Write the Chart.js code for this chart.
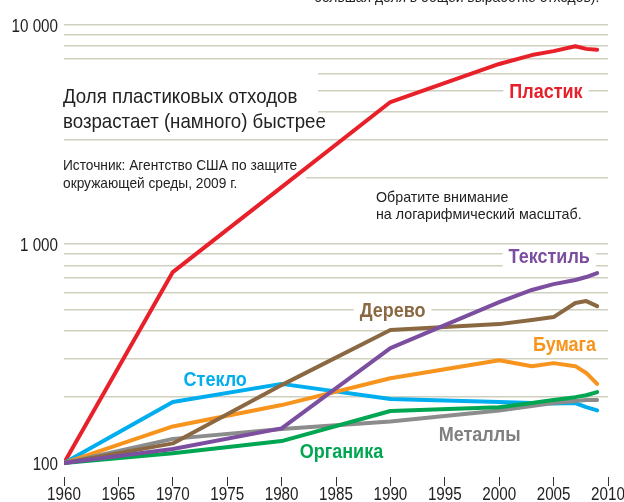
<!DOCTYPE html>
<html>
<head>
<meta charset="utf-8">
<script src="https://cdn.jsdelivr.net/npm/chart.js@4"></script>
<style>
  html, body { margin: 0; padding: 0; background: #fff; }
  #wrap { width: 624px; height: 502px; position: relative; }
</style>
</head>
<body>
<div id="wrap"><canvas id="chart"></canvas></div>
<script>
const FONT = "'Liberation Sans', Arial, sans-serif";

// data (index, 1960 = 100)
const years    = [1960, 1970, 1980, 1990, 2000, 2003, 2005, 2007, 2008, 2009];
const plastic  = [100, 745, 1820, 4450, 6640, 7290, 7600, 8000, 7780, 7700];
const textiles = [100, 116, 144, 335, 543, 617, 656, 685, 707, 737];
const wood     = [100, 123, 227, 405, 431, 450, 464, 538, 549, 521];
const paper    = [100, 147, 184, 244, 295, 277, 286, 277, 258, 230];
const glass    = [100, 190, 230, 196, 190, 188, 187, 188, 180, 174];
const organics = [100, 111, 126, 173, 180, 188, 194, 200, 204, 211];
const metals   = [100, 129, 143, 155, 174, 182, 188, 192, 194, 194];

const gridValues = [100, 200, 300, 400, 500, 600, 700, 800, 900,
                    1000, 2000, 3000, 4000, 5000, 6000, 7000, 8000, 9000, 10000];
const yLabels = { 100: '100', 1000: '1 000', 10000: '10 000' };
const xTicks  = [1960, 1965, 1970, 1975, 1980, 1985, 1990, 1995, 2000, 2005, 2010];

// series labels, placed in data units [year, value]
const seriesLabels = [
  { text: 'Пластик',  at: [2004.3, 5000], color: '#e8202a' },
  { text: 'Текстиль', at: [2004.6, 880],  color: '#7b4ea0' },
  { text: 'Дерево',   at: [1990.2, 500],  color: '#8a6842' },
  { text: 'Бумага',   at: [2006.0, 350],  color: '#f7941d' },
  { text: 'Стекло',   at: [1973.9, 242],  color: '#00aeef' },
  { text: 'Металлы',  at: [1998.2, 136],  color: '#808080' },
  { text: 'Органика', at: [1985.5, 113],  color: '#00a651' },
];

const pts = vals => vals.map((v, i) => ({ x: years[i], y: v }));
const line = (data, color) => ({
  data: pts(data), borderColor: color, borderWidth: 4, pointRadius: 0,
  tension: 0, borderJoinStyle: 'round', borderCapStyle: 'round', fill: false,
});

// condensed look: Liberation Sans squeezed horizontally
function txt(ctx, text, x, y, o) {
  ctx.save();
  ctx.font = `${o.weight || 'normal'} ${o.size}px ${FONT}`;
  const sx = o.sx || 0.82;
  const w = ctx.measureText(text).width * sx;
  let left = x;
  if (o.align === 'center') left = x - w / 2;
  if (o.align === 'right') left = x - w;
  if (o.mask) {
    ctx.fillStyle = '#fff';
    ctx.fillRect(left - 6, y - o.size * 0.9, w + 12, o.size * 1.15);
  }
  ctx.fillStyle = o.color || '#222';
  ctx.textAlign = 'left';
  ctx.textBaseline = 'alphabetic';
  ctx.translate(left, y);
  ctx.scale(sx, 1);
  ctx.fillText(text, 0, 0);
  ctx.restore();
  return w;
}

const notes = {
  id: 'notes',
  beforeDatasetsDraw(chart) {
    const { ctx, scales: { x, y } } = chart;
    ctx.save();
    ctx.fillStyle = '#fff';
    ctx.fillRect(56, 64, 262, 68);
    ctx.fillRect(56, 150, 250, 42);
    ctx.restore();
    txt(ctx, 'Доля пластиковых отходов', 63, 103, { size: 21, sx: 0.89 });
    txt(ctx, 'возрастает (намного) быстрее', 63, 128, { size: 21, sx: 0.89 });
    txt(ctx, 'Источник: Агентство США по защите', 63, 170, { size: 15, sx: 0.915 });
    txt(ctx, 'окружающей среды, 2009 г.', 63, 188, { size: 15, sx: 0.915 });
    txt(ctx, 'Обратите внимание', 376, 202, { size: 15, sx: 0.95 });
    txt(ctx, 'на логарифмический масштаб.', 376, 219, { size: 15, sx: 0.95 });

    seriesLabels.forEach(l => {
      const px = x.getPixelForValue(l.at[0]);
      const py = y.getPixelForValue(l.at[1]);
      txt(ctx, l.text, px, py + 7, { size: 20, weight: 'bold', sx: 0.9, color: l.color, align: 'center', mask: true });
    });
  },
  afterDraw(chart) {
    const { ctx, scales: { x, y } } = chart;
    xTicks.forEach(v => txt(ctx, String(v), x.getPixelForValue(v), 500, { size: 19, sx: 0.8, align: 'center' }));
    Object.keys(yLabels).forEach(v => txt(ctx, yLabels[v], 58, y.getPixelForValue(+v) + 7, { size: 19, sx: 0.8, align: 'right' }));
    txt(ctx, 'большая доля в общей выработке отходов).', 314, 2, { size: 15, sx: 0.925 });
  },
};

new Chart(document.getElementById('chart'), {
  type: 'line',
  data: {
    datasets: [
      line(textiles, '#7b4ea0'),
      line(wood,     '#8a6842'),
      line(organics, '#00a651'),
      line(metals,   '#8c8c8c'),
      line(paper,    '#f7941d'),
      line(glass,    '#00aeef'),
      line(plastic,  '#e8202a'),
    ],
  },
  options: {
    responsive: true,
    maintainAspectRatio: false,
    devicePixelRatio: 1,
    animation: false,
    layout: { padding: { top: 25, right: 16, left: 0, bottom: 0 } },
    plugins: { legend: { display: false }, tooltip: { enabled: false } },
    scales: {
      x: {
        type: 'linear', min: 1960, max: 2010,
        afterBuildTicks: s => { s.ticks = xTicks.map(v => ({ value: v })); },
        afterFit: s => { s.height = 25; },
        ticks: { display: true, color: 'rgba(0,0,0,0)', padding: 0, callback: () => '' },
        grid: { drawOnChartArea: false, drawTicks: true, tickLength: 9, tickColor: '#333', tickWidth: 1 },
        border: { display: false },
      },
      y: {
        type: 'logarithmic', min: 86.4, max: 10000,
        afterBuildTicks: s => { s.ticks = gridValues.map(v => ({ value: v })); },
        afterFit: s => { s.width = 64; },
        ticks: { display: true, autoSkip: false, callback: () => '' },
        grid: {
          drawTicks: false, lineWidth: 1.5,
          color: c => (c.tick && c.tick.value === 100 ? 'rgba(0,0,0,0)' : '#d0d0bf'),
        },
        border: { display: false },
      },
    },
  },
  plugins: [notes],
});
</script>
</body>
</html>
